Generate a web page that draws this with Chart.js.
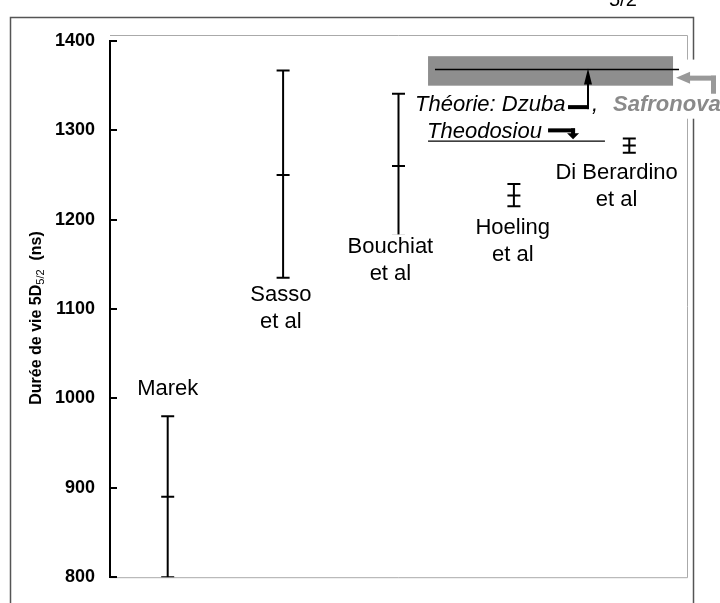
<!DOCTYPE html>
<html>
<head>
<meta charset="utf-8">
<script src="https://cdn.jsdelivr.net/npm/chart.js@4"></script>
<style>
  html, body { margin: 0; padding: 0; background: #fff; }
  canvas { display: block; }
</style>
</head>
<body>
<canvas id="lifetimeChart" width="720" height="603"></canvas>
<script>
// mesures de la durée de vie 5D5/2 (ns)
const studies = ['Marek', 'Sasso et al', 'Bouchiat et al', 'Hoeling et al', 'Di Berardino et al'];
const lifetimes = [890, 1250, 1260, 1227, 1283];
const errLow = [800, 1135, 1182, 1215, 1275];
const errHigh = [980, 1367, 1341, 1240, 1291];
const yTicks = [800, 900, 1000, 1100, 1200, 1300, 1400];

// valeurs théoriques
const safronovaRange = [1350, 1383];
const dzubaValue = 1368;
const theodosiouValue = 1288;

// placement des étiquettes (unités des axes)
const labelSpots = [
  { dx: 0, y: 1011 },
  { dx: -0.02, y: 1116 },
  { dx: -0.07, y: 1169 },
  { dx: -0.01, y: 1191 },
  { dx: -0.11, y: 1252 }
];

const FONT = "'Liberation Sans', Arial, sans-serif";

function arrowHead(ctx, tipX, tipY, dir, len, half) {
  // dir: 'up', 'down', 'left'
  ctx.beginPath();
  ctx.moveTo(tipX, tipY);
  if (dir === 'up') {
    ctx.lineTo(tipX - half, tipY + len);
    ctx.lineTo(tipX + half, tipY + len);
  } else if (dir === 'down') {
    ctx.lineTo(tipX - half, tipY - len);
    ctx.lineTo(tipX + half, tipY - len);
  } else {
    ctx.lineTo(tipX + len, tipY - half);
    ctx.lineTo(tipX + len, tipY + half);
  }
  ctx.closePath();
  ctx.fill();
}

const decorations = {
  id: 'decorations',
  beforeDraw(chart) {
    const { ctx, chartArea: a, scales: { y } } = chart;
    ctx.save();
    ctx.fillStyle = '#fff';
    ctx.fillRect(0, 0, chart.width, chart.height);

    // cadre extérieur
    ctx.strokeStyle = '#555';
    ctx.lineWidth = 1.5;
    ctx.strokeRect(10.5, 17.5, 683, 700);

    // cadre de la zone de tracé
    ctx.strokeStyle = '#aaa';
    ctx.lineWidth = 1;
    ctx.beginPath();
    ctx.moveTo(a.left, a.top - 5.5);
    ctx.lineTo(a.right + 0.5, a.top - 5.5);
    ctx.lineTo(a.right + 0.5, a.bottom + 0.5);
    ctx.lineTo(a.left, a.bottom + 0.5);
    ctx.stroke();

    // axe vertical + graduations vers l'intérieur
    ctx.strokeStyle = '#000';
    ctx.lineWidth = 2;
    ctx.beginPath();
    ctx.moveTo(a.left, y.getPixelForValue(1400));
    ctx.lineTo(a.left, y.getPixelForValue(800));
    yTicks.forEach(t => {
      const py = Math.round(y.getPixelForValue(t));
      ctx.moveTo(a.left - 1, py);
      ctx.lineTo(a.left + 7, py);
    });
    ctx.stroke();

    // reste de texte coupé en haut
    ctx.fillStyle = '#000';
    ctx.font = '20px ' + FONT;
    ctx.textBaseline = 'alphabetic';
    ctx.fillText('5/2', 609, 6);

    // titre de l'axe Y avec indice
    ctx.translate(37, 318);
    ctx.rotate(-Math.PI / 2);
    const big = 'bold 16px ' + FONT, small = '11px ' + FONT;
    const parts = [['Durée de vie 5D', big, 0], ['5/2', small, 4], ['  (ns)', big, 0]];
    let total = 0;
    parts.forEach(p => { ctx.font = p[1]; total += ctx.measureText(p[0]).width; });
    let cx = -total / 2;
    ctx.textBaseline = 'middle';
    parts.forEach(p => {
      ctx.font = p[1];
      ctx.fillText(p[0], cx, p[2]);
      cx += ctx.measureText(p[0]).width;
    });
    ctx.restore();
  },
  beforeDatasetsDraw(chart) {
    const { ctx, scales: { x, y } } = chart;
    ctx.save();
    // bande Safronova
    const bx0 = x.getPixelForValue(3.256), bx1 = x.getPixelForValue(5.379);
    const by0 = y.getPixelForValue(safronovaRange[1]), by1 = y.getPixelForValue(safronovaRange[0]);
    ctx.fillStyle = '#8e8e8e';
    ctx.fillRect(bx0, by0, bx1 - bx0, by1 - by0);

    // ligne Dzuba
    ctx.strokeStyle = '#000';
    ctx.lineWidth = 1.5;
    ctx.beginPath();
    ctx.moveTo(x.getPixelForValue(3.316), y.getPixelForValue(dzubaValue));
    ctx.lineTo(x.getPixelForValue(5.431), y.getPixelForValue(dzubaValue));
    ctx.stroke();

    // ligne Theodosiou (sert aussi de soulignement)
    ctx.lineWidth = 1.2;
    ctx.beginPath();
    ctx.moveTo(x.getPixelForValue(3.256), y.getPixelForValue(theodosiouValue));
    ctx.lineTo(x.getPixelForValue(4.789), y.getPixelForValue(theodosiouValue));
    ctx.stroke();
    ctx.restore();
  },
  afterDatasetsDraw(chart) {
    const { ctx, scales: { x, y } } = chart;
    ctx.save();
    ctx.textBaseline = 'alphabetic';

    // Théorie: Dzuba
    ctx.fillStyle = '#000';
    ctx.font = 'italic 22px ' + FONT;
    ctx.textAlign = 'left';
    ctx.fillText('Théorie: Dzuba', x.getPixelForValue(3.143), y.getPixelForValue(1322));
    ctx.fillText(',', x.getPixelForValue(4.677), y.getPixelForValue(1322));

    // repère + flèche Dzuba
    const mY = y.getPixelForValue(1326);
    const ax = x.getPixelForValue(4.642);
    ctx.fillRect(x.getPixelForValue(4.469), mY - 2, ax - x.getPixelForValue(4.469) + 1, 4);
    ctx.strokeStyle = '#000';
    ctx.lineWidth = 2;
    ctx.beginPath();
    ctx.moveTo(ax, mY + 2);
    ctx.lineTo(ax, y.getPixelForValue(dzubaValue) + 14);
    ctx.stroke();
    arrowHead(ctx, ax, y.getPixelForValue(dzubaValue) - 1, 'up', 16, 4);

    // Theodosiou
    ctx.fillText('Theodosiou', x.getPixelForValue(3.247), y.getPixelForValue(1292));
    const tY = y.getPixelForValue(1300);
    const tx0 = x.getPixelForValue(4.296), tx1 = x.getPixelForValue(4.530);
    ctx.fillRect(tx0, tY - 2, tx1 - tx0, 4);
    ctx.fillRect(tx1 - 4, tY - 2, 4, 6);
    arrowHead(ctx, tx1 - 2, y.getPixelForValue(1290), 'down', 6, 6);

    // Safronova (gris) sur fond blanc
    const sx = x.getPixelForValue(4.859);
    const sy = y.getPixelForValue(1322);
    ctx.fillStyle = '#fff';
    ctx.fillRect(sx - 4, sy - 20, 130, 28);
    ctx.fillRect(x.getPixelForValue(5.43) + 2, y.getPixelForValue(1368) - 10, 50, 40);
    ctx.fillStyle = '#8a8a8a';
    ctx.font = 'italic bold 22px ' + FONT;
    ctx.fillText('Safronova', sx, sy);

    // flèche grise vers la bande
    const gy = y.getPixelForValue(1359);
    const gTip = x.getPixelForValue(5.405);
    const gRight = x.getPixelForValue(5.734);
    ctx.fillStyle = '#999';
    arrowHead(ctx, gTip, gy, 'left', 14, 6);
    ctx.fillRect(gTip + 12, gy - 2, gRight - gTip - 10, 5);
    ctx.fillRect(gRight - 3, gy - 2, 5, y.getPixelForValue(1341) - gy + 2);

    // étiquettes des mesures
    ctx.textAlign = 'center';
    ctx.textBaseline = 'middle';
    ctx.font = '22px ' + FONT;
    studies.forEach((name, i) => {
      const spot = labelSpots[i];
      const lines = name.endsWith(' et al') ? [name.slice(0, -6), 'et al'] : [name];
      const px = x.getPixelForValue(i + 1 + spot.dx);
      const py = y.getPixelForValue(spot.y);
      lines.forEach((ln, k) => {
        const w = ctx.measureText(ln).width;
        ctx.fillStyle = '#fff';
        ctx.fillRect(px - w / 2 - 2, py + k * 27 - 13, w + 4, 27);
        ctx.fillStyle = '#000';
        ctx.fillText(ln, px, py + k * 27);
      });
    });
    ctx.restore();
  }
};

// barres d'erreur : un jeu de données par mesure
const errorSets = studies.map((name, i) => ({
  label: name,
  data: [{ x: i + 1, y: errLow[i] }, { x: i + 1, y: errHigh[i] }],
  showLine: true,
  borderColor: '#000',
  borderWidth: 2,
  pointStyle: 'line',
  pointRadius: 6.5,
  pointBorderWidth: 2,
  pointBorderColor: '#000'
}));

const centerSet = {
  label: 'Durée de vie',
  data: lifetimes.map((v, i) => ({ x: i + 1, y: v })),
  showLine: false,
  pointStyle: 'line',
  pointRadius: 6.5,
  pointBorderWidth: 2,
  pointBorderColor: '#000'
};

const ctx = document.getElementById('lifetimeChart').getContext('2d');
new Chart(ctx, {
  type: 'scatter',
  data: { datasets: [...errorSets, centerSet] },
  options: {
    responsive: false,
    animation: false,
    layout: { padding: { left: 0, top: 41, right: 33, bottom: 20 } },
    plugins: { legend: { display: false }, tooltip: { enabled: false } },
    scales: {
      x: { type: 'linear', min: 0.5, max: 5.5, display: false },
      y: {
        min: 800,
        max: 1400,
        afterBuildTicks: scale => { scale.ticks = yTicks.map(v => ({ value: v })); },
        afterFit: scale => { scale.width = 110; },
        ticks: {
          color: '#000',
          padding: 15,
          font: { size: 18, weight: 'bold', family: FONT },
          callback: v => String(v)
        },
        grid: { display: false, drawTicks: false },
        border: { display: false }
      }
    }
  },
  plugins: [decorations]
});
</script>
</body>
</html>
